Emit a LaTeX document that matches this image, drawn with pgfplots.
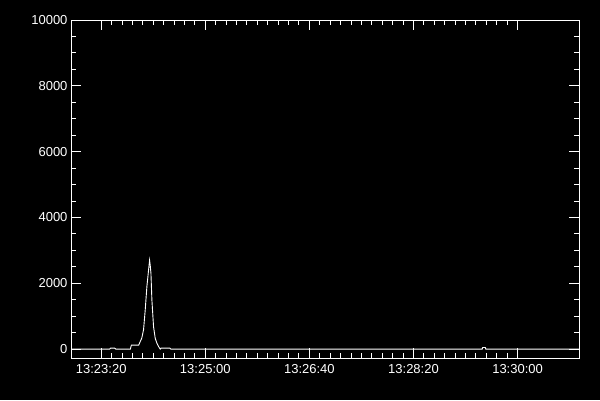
\documentclass[border=0pt]{standalone}
\usepackage{fontspec}
\setmainfont{Liberation Sans}
\usepackage{pgfplots}
\pgfplotsset{compat=1.18}
\begin{document}
\begin{tikzpicture}
\fill[black] (0,0) rectangle (600pt,400pt);
\begin{axis}[
  at={(71pt,42pt)}, anchor=south west,
  width=508pt, height=338pt, scale only axis,
  xmin=1371, xmax=1859,
  ymin=-270, ymax=10000,
  axis line style={white, line width=1pt},
  every tick/.style={white, line width=1pt},
  major tick length=10pt, minor tick length=5pt,
  tick align=inside,
  xtick={1400,1500,1600,1700,1800},
  xticklabels={13:23:20,13:25:00,13:26:40,13:28:20,13:30:00},
  minor x tick num=9,
  ytick={0,2000,4000,6000,8000,10000},
  minor y tick num=3,
  scaled y ticks=false,
  /pgf/number format/assume math mode=true,
  yticklabel={\pgfmathprintnumber[fixed,1000 sep={}]{\tick}},
  ticklabel style={white, font=\fontsize{13}{13}\selectfont},
  xticklabel style={yshift=-3pt},
]
\addplot[white, line width=0.9pt, sharp plot] coordinates {
(1371,0) (1408,0) (1409,30) (1413,30) (1414,0) (1428,0) (1429,120) (1436,120)
(1437.5,230) (1439,335) (1440.7,590) (1442.3,1190) (1443.9,1900) (1445.5,2400)
(1446.5,2700) (1447.1,2550) (1447.8,2300) (1448.7,1500) (1450.3,680) (1451.9,330)
(1453.5,180) (1455.1,80) (1456.7,0) (1457.5,30) (1466,30) (1467,0)
(1766,0) (1766.5,50) (1769,50) (1769.5,0) (1859,0)
};
\end{axis}
\end{tikzpicture}
\end{document}
